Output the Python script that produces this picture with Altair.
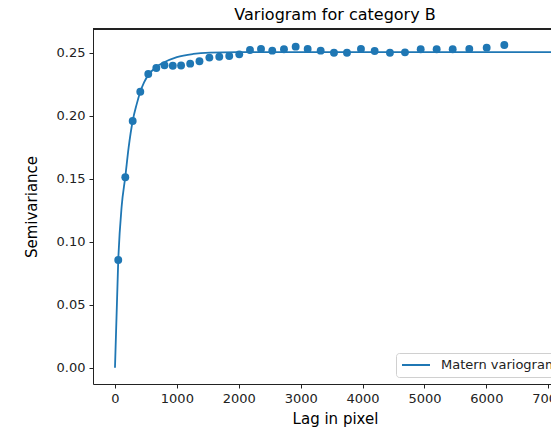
import altair as alt
import pandas as pd

lag = [53, 167, 286, 409, 538, 668, 800, 934, 1068, 1215, 1365, 1525, 1685, 1846,
       2008, 2181, 2359, 2541, 2730, 2919, 3113, 3323, 3538, 3748, 3974, 4195,
       4442, 4685, 4939, 5197, 5456, 5724, 6005, 6290]
semivar = [0.0855, 0.1512, 0.1958, 0.2190, 0.2331, 0.2379, 0.2400, 0.2396, 0.2398,
           0.2413, 0.2432, 0.2461, 0.2468, 0.2474, 0.2487, 0.2521, 0.2529, 0.2516,
           0.2527, 0.2548, 0.2529, 0.2516, 0.2500, 0.2500, 0.2529, 0.2513, 0.2500,
           0.2503, 0.2527, 0.2527, 0.2527, 0.2529, 0.2540, 0.2561]

# Fitted Matern model curve
model_lag = [0, 53, 108, 167, 220, 286, 350, 409, 470, 538, 660, 780, 1000, 1265,
             1535, 2000, 3000, 7100]
model_val = [0.0, 0.0855, 0.128, 0.1516, 0.1745, 0.1958, 0.209, 0.2190, 0.2265,
             0.2322, 0.2385, 0.2420, 0.2465, 0.2490, 0.2500, 0.2504, 0.2505, 0.2505]
model_name = ["Matern variogram"] * len(model_lag)

x_ticks = [0, 1000, 2000, 3000, 4000, 5000, 6000, 7000]
y_ticks = [0.00, 0.05, 0.10, 0.15, 0.20, 0.25]

pts = pd.DataFrame({"lag": lag, "semivar": semivar})
mdl = pd.DataFrame({"lag": model_lag, "semivar": model_val, "series": model_name})

W, H = 458, 355
BLUE = "#1f77b4"
FONT = "DejaVu Sans"
SPINE = "#222222"

xscale = alt.Scale(domain=[-355, 7044], nice=False, zero=False)
yscale = alt.Scale(domain=[-0.0129, 0.2688], nice=False, zero=False)

xaxis = alt.Axis(values=x_ticks, format="d", title="Lag in pixel", grid=False,
                 domainColor=SPINE, tickColor=SPINE, tickSize=4,
                 labelColor="#222222", labelFont=FONT, labelFontSize=13,
                 labelPadding=4, titleFont=FONT, titleFontSize=15,
                 titleFontWeight="normal", titleColor="#000000",
                 titleX=242, titleY=34, titleBaseline="middle")
yaxis = alt.Axis(values=y_ticks, format=".2f", title="Semivariance", grid=False,
                 domainColor=SPINE, tickColor=SPINE, tickSize=4,
                 labelColor="#222222", labelFont=FONT, labelFontSize=13,
                 labelPadding=4, titleFont=FONT, titleFontSize=15,
                 titleFontWeight="normal", titleColor="#000000",
                 titleX=-62, titleBaseline="middle")

line = alt.Chart(mdl).mark_line(strokeWidth=1.8, clip=True, interpolate="monotone").encode(
    x=alt.X("lag:Q", scale=xscale, axis=xaxis),
    y=alt.Y("semivar:Q", scale=yscale, axis=yaxis),
    color=alt.Color("series:N",
                    scale=alt.Scale(domain=["Matern variogram"], range=[BLUE]),
                    legend=alt.Legend(title=None, orient="none", legendX=303, legendY=324,
                                      symbolType="stroke", symbolSize=784,
                                      symbolStrokeWidth=1.8, clipHeight=14,
                                      labelFont=FONT, labelFontSize=13,
                                      labelColor="#222222", labelOffset=10, padding=5,
                                      fillColor="white", strokeColor="#d0d0d0",
                                      cornerRadius=3)),
)

points = alt.Chart(pts).mark_circle(size=62, opacity=1, color=BLUE, clip=True).encode(
    x=alt.X("lag:Q", scale=xscale),
    y=alt.Y("semivar:Q", scale=yscale),
)

top_spine = alt.Chart(pts).mark_rule(color=SPINE, strokeWidth=1).encode(
    x=alt.value(0), x2=alt.value(W), y=alt.value(0)
)

chart = alt.layer(line, points, top_spine).properties(
    width=W, height=H,
    title=alt.TitleParams("Variogram for category B", font=FONT, fontSize=16,
                          fontWeight="normal", color="#000000", dx=13, offset=6),
    autosize=alt.AutoSizeParams(type="none"),
    padding={"left": 93, "top": 29, "right": 0, "bottom": 45},
).configure_view(stroke=None).configure(background="white")

chart.save("out.html", embed_options={"renderer": "svg", "actions": False})
